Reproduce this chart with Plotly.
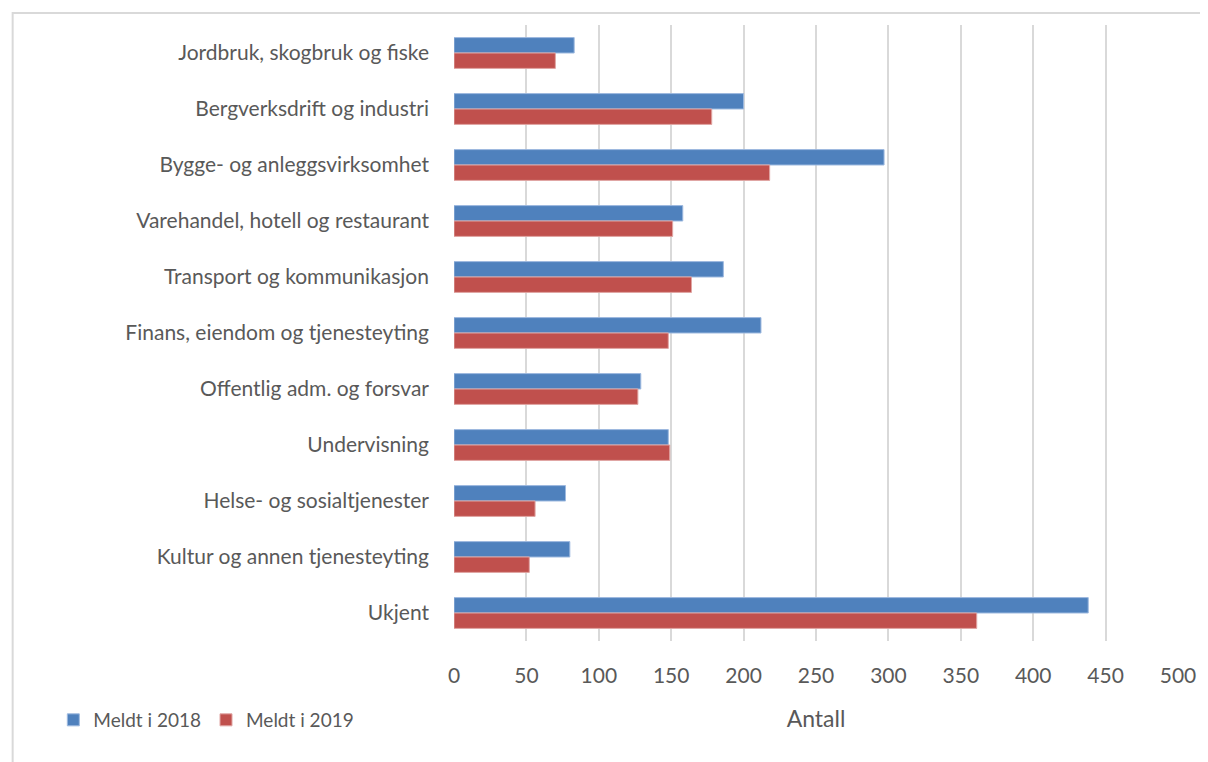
'''
    Horizontal grouped bar chart: meldte saker per næring, 2018 og 2019.
'''

import plotly.graph_objects as go

categories = [
    "Jordbruk, skogbruk og fiske",
    "Bergverksdrift og industri",
    "Bygge- og anleggsvirksomhet",
    "Varehandel, hotell og restaurant",
    "Transport og kommunikasjon",
    "Finans, eiendom og tjenesteyting",
    "Offentlig adm. og forsvar",
    "Undervisning",
    "Helse- og sosialtjenester",
    "Kultur og annen tjenesteyting",
    "Ukjent",
]
meldt_2018 = [83, 200, 297, 158, 186, 212, 129, 148, 77, 80, 438]
meldt_2019 = [70, 178, 218, 151, 164, 148, 127, 149, 56, 52, 361]
x_ticks = [0, 50, 100, 150, 200, 250, 300, 350, 400, 450, 500]

FONT = "Lato"
GREY = "#595959"

fig = go.Figure()
fig.add_trace(go.Bar(
    y=categories, x=meldt_2018, orientation="h", name="Meldt i 2018",
    marker=dict(color="#4F81BD", line=dict(color="#9DB9DF", width=1)),
))
fig.add_trace(go.Bar(
    y=categories, x=meldt_2019, orientation="h", name="Meldt i 2019",
    marker=dict(color="#C0504D", line=dict(color="#E0A6A4", width=1)),
))

# the page adds an 8px body margin, so figure pixels are page pixels - 8
OFF = 8
L, R, T, B = 454 - OFF, 1184 - OFF, 25 - OFF, 641 - OFF
FW, FH = 1200, 754
W, H = R - L, B - T

fig.update_layout(
    width=FW, height=FH,
    margin=dict(l=L, r=FW - R, t=T, b=FH - B),
    paper_bgcolor="white", plot_bgcolor="white",
    barmode="group", bargap=0.45, bargroupgap=0,
    font=dict(family=FONT, color=GREY, size=21),
    legend=dict(
        orientation="h", x=(50 - OFF - L) / W, y=(B - (720 - OFF)) / H,
        xanchor="left", yanchor="middle",
        font=dict(size=19, color=GREY), itemwidth=30,
        traceorder="normal",
    ),
    # chart frame: only its left and top edges fall inside the picture
    shapes=[dict(
        type="rect", xref="paper", yref="paper",
        x0=(9 - OFF - L) / W, x1=(1230 - OFF - L) / W,
        y0=(B - 800) / H, y1=(B - (13 - OFF)) / H,
        line=dict(color="#D9D9D9", width=2), layer="below",
    )],
)
fig.update_xaxes(
    range=[0, 500], tickvals=x_ticks, showgrid=True,
    gridcolor="#D9D9D9", gridwidth=2, zeroline=False,
    showline=False, ticks="", ticklabelstandoff=20,
    tickfont=dict(size=21, color=GREY),
    title=dict(text="Antall", font=dict(size=23, color=GREY), standoff=24),
)
fig.update_yaxes(
    autorange="reversed", showgrid=False, zeroline=False,
    showline=False, ticks="", ticklabelstandoff=24,
    tickfont=dict(size=21, color=GREY),
)

fig.write_html("out.html")
